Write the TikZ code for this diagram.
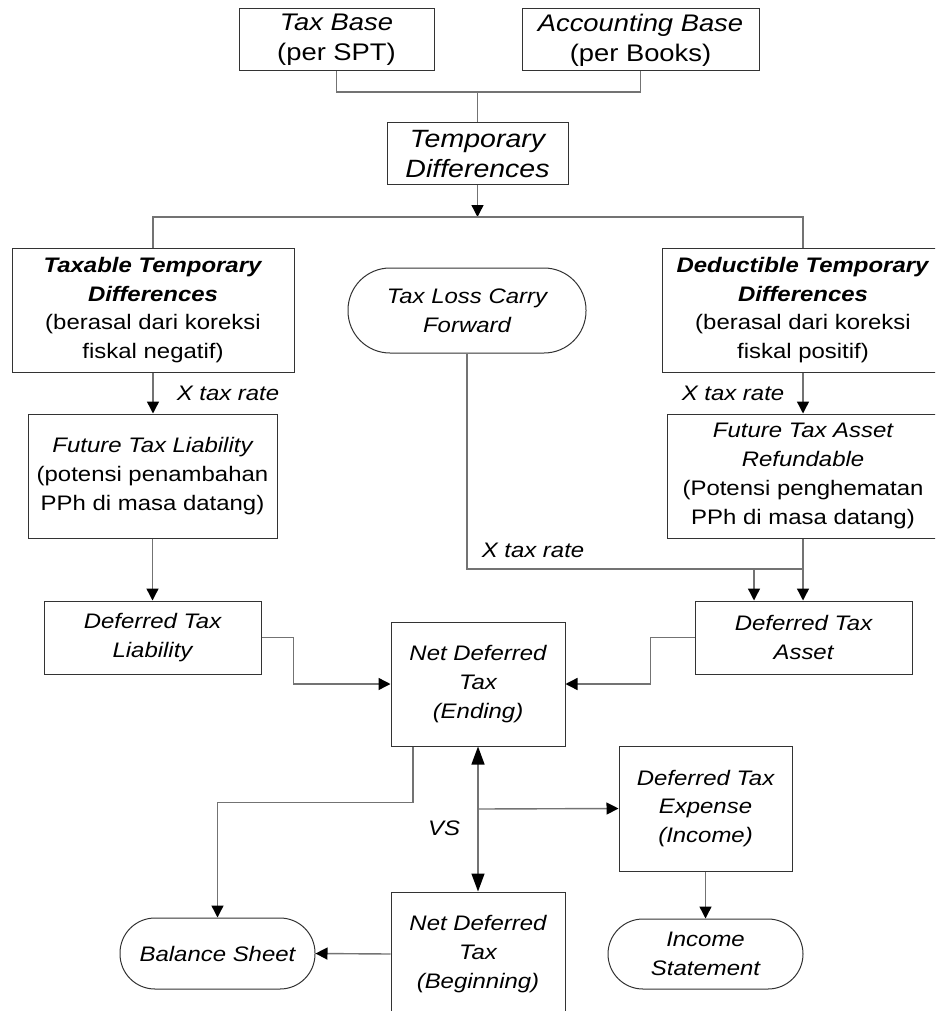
\documentclass[tikz,border=0pt]{standalone}
\usepackage{fontspec}
\setmainfont{Liberation Sans}[FakeStretch=1.14]
\usetikzlibrary{arrows.meta}
\begin{document}
\begin{tikzpicture}[x=1pt,y=-1pt,
  box/.style={draw=black!80, line width=1pt, inner sep=0pt, align=center, font=\fontsize{21}{28.8}\selectfont},
  rbox/.style={box, rounded corners=#1},
  conn/.style={draw=black!55, line width=1.4pt},
  arr/.style={conn, -{Triangle[length=12pt,width=12pt,color=black]}},
  darr/.style={conn, {Triangle[length=18pt,width=13pt,color=black]}-{Triangle[length=18pt,width=13pt,color=black]}},
  lbl/.style={inner sep=0pt, font=\fontsize{21}{28.8}\selectfont\itshape}
]
\useasboundingbox (0,0) rectangle (935,1011);
\clip (0,0) rectangle (935,1011);

% nodes
\node[box, minimum width=195pt, minimum height=62pt, font=\fontsize{24}{30}\selectfont] (tb) at (336.5,40) {{\itshape Tax Base}\\(per SPT)};
\node[box, minimum width=237pt, minimum height=62pt, font=\fontsize{24}{30}\selectfont] (ab) at (640.5,40) {{\itshape Accounting Base}\\(per Books)};
\node[box, minimum width=181pt, minimum height=62pt, font=\fontsize{25}{30}\selectfont\itshape] (td) at (477.5,154) {Temporary\\Differences};

\node[box, minimum width=282pt, minimum height=124pt] (ttd) at (153,310) {\textbf{\textit{Taxable Temporary}}\\\textbf{\textit{Differences}}\\(berasal dari koreksi\\fiskal negatif)};
\node[rbox=42pt, minimum width=238pt, minimum height=85pt, font=\fontsize{21}{28.8}\selectfont\itshape] (tlcf) at (467,310.5) {Tax Loss Carry\\Forward};
\node[box, minimum width=282pt, minimum height=124pt] (dtd) at (803,310) {\textbf{\textit{Deductible Temporary}}\\\textbf{\textit{Differences}}\\(berasal dari koreksi\\fiskal positif)};

\node[box, minimum width=249pt, minimum height=124pt] (ftl) at (152.5,476) {{\itshape Future Tax Liability}\\(potensi penambahan\\PPh di masa datang)};
\node[box, minimum width=272pt, minimum height=124pt] (fta) at (803,476) {{\itshape Future Tax Asset}\\{\itshape Refundable}\\(Potensi penghematan\\PPh di masa datang)};

\node[box, minimum width=217pt, minimum height=73pt, font=\fontsize{21}{28.8}\selectfont\itshape] (dtl) at (152.5,637.5) {Deferred Tax\\Liability};
\node[box, minimum width=217pt, minimum height=73pt, font=\fontsize{21}{28.8}\selectfont\itshape] (dta) at (803.5,637.5) {Deferred Tax\\Asset};

\node[box, minimum width=174pt, minimum height=124pt, font=\fontsize{21}{28.8}\selectfont\itshape] (nde) at (478,684) {Net Deferred\\Tax\\(Ending)};
\node[box, minimum width=173pt, minimum height=125pt, font=\fontsize{21}{28.8}\selectfont\itshape] (dte) at (705.5,808.5) {Deferred Tax\\Expense\\(Income)};
\node[box, minimum width=174pt, minimum height=124pt, font=\fontsize{21}{28.8}\selectfont\itshape] (ndb) at (478,954) {Net Deferred\\Tax\\(Beginning)};
\node[rbox=35pt, minimum width=195pt, minimum height=71pt, font=\fontsize{21}{28.8}\selectfont\itshape] (bs) at (217.5,953.5) {Balance Sheet};
\node[rbox=35pt, minimum width=195pt, minimum height=70pt, font=\fontsize{21}{28.8}\selectfont\itshape] (is) at (705.5,954) {Income\\Statement};

% labels
\node[lbl] (r1) at (228,393) {X tax rate};
\node[lbl] (r2) at (733,393) {X tax rate};
\node[lbl] (r3) at (533,550) {X tax rate};
\node[lbl] (vs) at (444,828) {VS};

% junctions
\coordinate (j1) at (477.5,92);
\coordinate (j2) at (477.5,217);
\coordinate (j3) at (803,569);
\coordinate (j4) at (754,569);
\coordinate (j5) at (478,809);

% connectors
\draw[conn] (tb.south) |- (j1) -| (ab.south);
\draw[conn] (j1) -- (td.north);
\draw[arr] (td.south) -- (j2);
\draw[conn] (ttd.north) |- (j2) -| (dtd.north);
\draw[arr] (ttd.south) -- (ttd.south |- ftl.north);
\draw[arr] (dtd.south) -- (fta.north);
\draw[arr] (ftl.south) -- (ftl.south |- dtl.north);
\draw[conn] (tlcf.south) |- (j3);
\draw[arr] (j4) -- (j4 |- dta.north);
\draw[arr] (fta.south) -- (fta.south |- dta.north);
\draw[arr] (dtl.east) -- ++(32,0) |- (nde.west);
\draw[arr] (dta.west) -- ++(-44,0) |- (nde.east);
\draw[arr] ([xshift=-65pt]nde.south) -- ++(0,56) -| (bs.north);
\draw[darr] (nde.south) -- (ndb.north);
\draw[arr] (j5) -- (dte.west);
\draw[arr] (dte.south) -- (is.north);
\draw[arr] (ndb.west) -- (bs.east);
\end{tikzpicture}
\end{document}
